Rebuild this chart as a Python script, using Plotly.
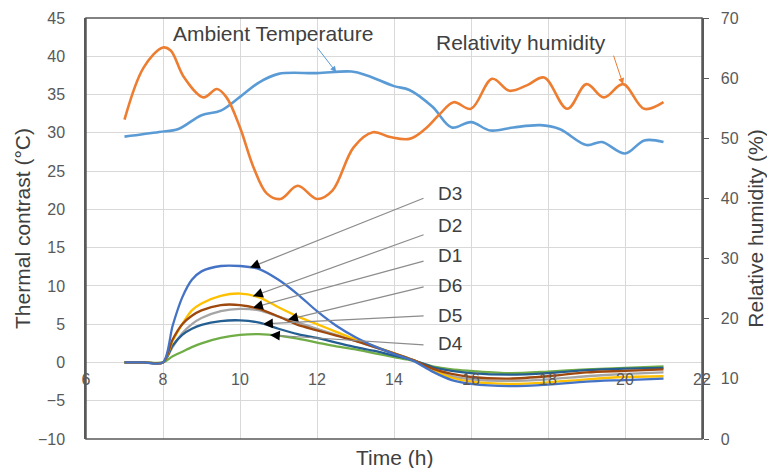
import numpy as np
import plotly.graph_objects as go

# ---------------- data ----------------
time_amb = [7.0, 7.9, 8.4, 9.0, 9.5, 10.0, 10.5, 11.0, 12.0, 12.9, 13.3, 14.0, 14.4,
            15.0, 15.5, 16.0, 16.5, 17.1, 17.8, 18.3, 19.0, 19.4, 20.0, 20.5, 21.0]
ambient = [29.5, 30.1, 30.5, 32.3, 32.9, 34.7, 36.6, 37.7, 37.8, 38.0, 37.5, 36.1, 35.6,
           33.4, 30.7, 31.4, 30.3, 30.7, 31.0, 30.5, 28.4, 28.8, 27.3, 29.0, 28.8]

time_rh = [7.0, 7.5, 8.0, 8.2, 8.55, 9.05, 9.4, 9.65, 10.0, 10.35, 10.7, 11.05, 11.5,
           12.0, 12.4, 12.95, 13.45, 13.9, 14.4, 14.8, 15.2, 15.55, 16.0, 16.55, 17.0,
           17.45, 17.9, 18.5, 19.0, 19.45, 19.95, 20.5, 21.0]
humidity = [53.1, 61.8, 65.1, 64.6, 60.1, 56.8, 58.2, 56.8, 51.8, 45.2, 40.8, 39.9, 42.1,
            39.9, 41.3, 48.5, 51.0, 50.2, 49.9, 51.5, 54.1, 56.0, 54.9, 59.9, 57.9,
            58.8, 60.1, 54.9, 59.0, 56.8, 59.0, 54.9, 56.0]

time_d = [7, 7.5, 8, 8.25, 8.5, 8.75, 9, 9.5, 10, 10.5, 11, 11.5, 12, 12.5, 13, 13.5,
          14, 14.5, 15, 15.5, 16, 17, 18, 19, 20, 21]
D3 = [0, 0, 0, 4.8, 8.5, 10.8, 11.9, 12.6, 12.6, 12.2, 10.8, 8.9, 6.7, 4.8, 3.3, 2.1,
      1.1, 0.2, -1.2, -2.3, -2.8, -3.1, -2.9, -2.5, -2.3, -2.1]
D2 = [0, 0, 0, 2.8, 5.0, 6.8, 7.7, 8.7, 9.0, 8.5, 7.2, 6.0, 5.0, 4.0, 3.0, 2.1,
      1.2, 0.3, -1.0, -2.0, -2.5, -2.8, -2.6, -2.2, -1.9, -1.8]
D1 = [0, 0, 0, 3.0, 5.0, 6.1, 6.8, 7.5, 7.5, 7.0, 6.0, 4.9, 4.2, 3.5, 2.8, 2.0,
      1.2, 0.3, -0.8, -1.5, -1.9, -2.1, -1.8, -1.3, -1.1, -0.9]
D6 = [0, 0, 0, 2.0, 3.8, 5.0, 5.8, 6.7, 7.0, 6.8, 6.0, 5.2, 4.4, 3.6, 2.8, 2.0,
      1.2, 0.3, -0.9, -1.8, -2.2, -2.4, -2.2, -1.8, -1.5, -1.3]
D5 = [0, 0, 0, 2.2, 3.6, 4.4, 4.9, 5.4, 5.5, 5.2, 4.4, 3.7, 3.2, 2.6, 2.0, 1.5,
      0.9, 0.3, -0.6, -1.1, -1.4, -1.6, -1.4, -1.0, -0.8, -0.7]
D4 = [0, 0, 0, 0.8, 1.4, 2.0, 2.5, 3.2, 3.6, 3.7, 3.5, 3.1, 2.6, 2.1, 1.7, 1.2,
      0.7, 0.2, -0.5, -0.9, -1.1, -1.4, -1.2, -0.9, -0.7, -0.5]

series_names = ["D6", "D4", "D5", "D2", "D1", "D3"]
series_vals = [D6, D4, D5, D2, D1, D3]
series_cols = ["#A5A5A5", "#70AD47", "#255E91", "#FFC000", "#9E480E", "#4472C4"]

x_ticks = [6, 8, 10, 12, 14, 16, 18, 20, 22]

# label annotations: name, head time, pixel offset of tail, label y
d_labels = ["D3", "D2", "D1", "D6", "D5", "D4"]
d_head_t = [10.26, 10.34, 10.34, 11.25, 10.6, 10.78]
d_tail_px = [(175, -70), (172, -62), (172, -47), (137, -33), (162, -8), (155, 10)]
d_label_y = [22.1, 17.9, 14.0, 10.1, 6.2, 2.5]
d_label_x = 15.1

FONT = "Liberation Sans, Arial, sans-serif"
TXT = "#404040"
NB = "\u00a0"

fig = go.Figure()

fig.add_trace(go.Scatter(x=time_amb, y=ambient, mode="lines", name="Ambient Temperature",
                         line=dict(color="#5B9BD5", width=2.6, shape="spline", smoothing=1.0)))
fig.add_trace(go.Scatter(x=time_rh, y=humidity, mode="lines", name="Relativity humidity",
                         yaxis="y2",
                         line=dict(color="#ED7D31", width=2.6, shape="spline", smoothing=1.0)))
for nm, vals, col in zip(series_names, series_vals, series_cols):
    fig.add_trace(go.Scatter(x=time_d, y=vals, mode="lines", name=nm,
                             line=dict(color=col, width=2.3, shape="spline", smoothing=0.8)))

ann = []
dmap = dict(zip(series_names, series_vals))
for lab, ht, (ax, ay), ly in zip(d_labels, d_head_t, d_tail_px, d_label_y):
    hy = float(np.interp(ht, time_d, dmap[lab]))
    ann.append(dict(x=ht, y=hy, xref="x", yref="y", ax=ax, ay=ay, text="",
                    showarrow=True, arrowhead=0, arrowwidth=1.2, arrowcolor="#8c8c8c"))
    L = (ax ** 2 + ay ** 2) ** 0.5
    ann.append(dict(x=ht, y=hy, xref="x", yref="y", ax=ax / L * 9, ay=ay / L * 9, text="",
                    showarrow=True, arrowhead=2, arrowsize=1.4, arrowwidth=1.4,
                    arrowcolor="#000000"))
    ann.append(dict(x=d_label_x, y=ly, xref="x", yref="y", text=lab, showarrow=False,
                    xanchor="left", yanchor="middle", font=dict(size=19, color=TXT, family=FONT)))

# ambient temperature label + arrow
amb_t = 12.5
ann.append(dict(x=amb_t, y=float(np.interp(amb_t, time_amb, ambient)), xref="x", yref="y",
                ax=-20, ay=-26, text="", showarrow=True, arrowhead=2, arrowsize=1.2,
                arrowwidth=1, arrowcolor="#5B9BD5"))
ann.append(dict(x=10.85, y=43.0, xref="x", yref="y", text="Ambient Temperature",
                showarrow=False, font=dict(size=21, color=TXT, family=FONT)))
rh_t = 19.95
ann.append(dict(x=rh_t, y=float(np.interp(rh_t, time_rh, humidity)), xref="x", yref="y2",
                ax=-10, ay=-30, text="", showarrow=True, arrowhead=2, arrowsize=1.2,
                arrowwidth=1, arrowcolor="#ED7D31"))
ann.append(dict(x=17.3, y=65.9, xref="x", yref="y2", text="Relativity humidity",
                showarrow=False, font=dict(size=21, color=TXT, family=FONT)))
# x-axis title
ann.append(dict(x=0.5, y=0, xref="paper", yref="paper", yanchor="top", yshift=-5,
                text="Time (h)", showarrow=False, font=dict(size=21, color=TXT, family=FONT)))

fig.update_layout(
    width=767, height=468,
    margin=dict(l=86, r=65, t=18, b=29, autoexpand=False),
    paper_bgcolor="white", plot_bgcolor="white",
    showlegend=False,
    font=dict(family=FONT, color="#595959", size=16),
    xaxis=dict(range=[6, 22], tickvals=x_ticks, ticktext=[str(v) for v in x_ticks],
               showgrid=True, gridcolor="#d9d9d9", gridwidth=1, zeroline=False,
               showline=False, anchor="free", position=10 / 55, ticks="",
               automargin=False,
               ticklabelstandoff=6, tickfont=dict(size=16, color="#595959")),
    yaxis=dict(range=[-10, 45], dtick=5, tick0=0, showgrid=True, gridcolor="#d9d9d9",
               zeroline=False, showline=True, linecolor="#595959", linewidth=1.5,
               automargin=False,
               ticks="", ticklabelstandoff=16, tickfont=dict(size=16, color="#595959"),
               title=dict(text="Thermal contrast (°C)", standoff=2,
                          font=dict(size=21, color=TXT))),
    yaxis2=dict(range=[0, 70], dtick=10, overlaying="y", side="right", showgrid=False,
                zeroline=False, showline=True, linecolor="#595959", linewidth=1.5,
                automargin=False,
                ticks="outside", ticklen=5, tickcolor="#595959", tickprefix=NB + NB,
                tickfont=dict(size=16, color="#595959"),
                title=dict(text="Relative humidity (%)", standoff=12,
                           font=dict(size=21, color=TXT))),
    annotations=ann,
    shapes=[dict(type="rect", xref="paper", yref="paper", x0=0, x1=1, y0=0, y1=1,
                 line=dict(color="#595959", width=1.5), layer="above")],
)

fig.write_html("out.html")
